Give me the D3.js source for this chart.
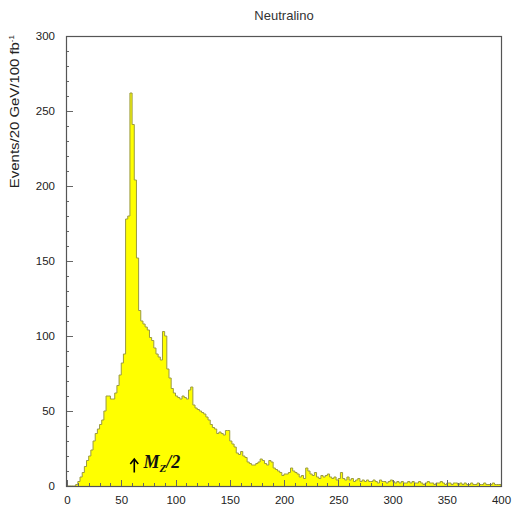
<!DOCTYPE html>
<html>
<head>
<meta charset="utf-8">
<script src="https://cdn.jsdelivr.net/npm/d3@7"></script>
<style>
  html, body { margin: 0; padding: 0; background: #fff; }
  svg { display: block; }
</style>
</head>
<body>
<svg id="chart" width="512" height="513"></svg>
<script>
// ---- Data ----
const title = "Neutralino";
const yLabel = "Events/20 GeV/100 fb";
const binWidth = 2;          // GeV per histogram bin
const xDomain = [0, 400];
const yDomain = [0, 300];
const xTickValues = [0, 50, 100, 150, 200, 250, 300, 350, 400];
const yTickValues = [0, 50, 100, 150, 200, 250, 300];
// bin contents, bins starting at 0,2,4,...,398 GeV
const counts = [
  0,0,0,0,1,3,6,9,13,17,
  20,24,30,35,38,41,44,50,60,60,
  58,58,62,67,74,82,88,178,180,262,
  241,204,152,117,110,108,106,104,99,97,
  92,88,86,84,103,100,78,72,65,62,
  60,59,58,60,59,58,64,66,54,52,
  51,50,49,48,46,44,41,39,38,35,
  36,35,34,37,37,30,28,26,22,21,
  23,20,19,16,15,14,14,15,16,18,
  17,15,14,17,16,12,11,10,9,7,
  8,8,9,12,10,9,8,6,7,5,
  12,10,8,7,9,6,5,7,6,7,
  8,6,5,6,4,5,9,5,4,6,
  4,5,3,4,5,3,4,3,4,3,
  3,4,3,2,4,3,3,2,3,4,
  3,2,3,2,3,2,2,3,2,3,
  2,2,3,2,1,2,3,2,2,1,
  2,2,3,2,1,2,2,1,2,2,
  1,2,1,2,1,1,2,1,1,2,
  1,1,2,1,1,1,2,1,1,1
];
const annotation = { x: 62, yTip: 18, yTail: 9, textX: 70.5, textY: 12 };

// ---- Layout ----
const frame = { left: 66, right: 501, top: 36, bottom: 486 };
const svg = d3.select("#chart");

const x = d3.scaleLinear().domain(xDomain).range([frame.left + 1, frame.right]);
const y = d3.scaleLinear().domain(yDomain).range([frame.bottom, frame.top]);

// histogram as step area
const bins = counts.map((c, i) => ({ x0: i * binWidth, x1: (i + 1) * binWidth, c }));
const pts = [];
pts.push([bins[0].x0, 0]);
bins.forEach(b => { pts.push([b.x0, b.c]); pts.push([b.x1, b.c]); });
pts.push([bins[bins.length - 1].x1, 0]);

const area = d3.area().x(d => x(d[0])).y0(y(0)).y1(d => y(d[1]));
const line = d3.line().x(d => x(d[0])).y(d => y(d[1]));

svg.append("path")
  .attr("d", area(pts))
  .attr("fill", "#ffff00");
svg.append("path")
  .attr("d", line(pts))
  .attr("fill", "none")
  .attr("stroke", "#9a9a40")
  .attr("stroke-width", 1);

// inner ticks
const g = svg.append("g").attr("stroke", "#666").attr("stroke-width", 1);
d3.range(0, 401, 10).forEach(v => {
  const len = v % 50 === 0 ? 6 : 3;
  g.append("line")
    .attr("x1", Math.round(x(v)) + 0.5).attr("x2", Math.round(x(v)) + 0.5)
    .attr("y1", frame.bottom).attr("y2", frame.bottom - len);
});
d3.range(0, 301, 10).forEach(v => {
  const len = v % 50 === 0 ? 7 : 3;
  g.append("line")
    .attr("y1", Math.round(y(v)) + 0.5).attr("y2", Math.round(y(v)) + 0.5)
    .attr("x1", frame.left).attr("x2", frame.left + len);
});

// frame
svg.append("rect")
  .attr("x", frame.left + 0.5).attr("y", frame.top + 0.5)
  .attr("width", frame.right - frame.left).attr("height", frame.bottom - frame.top)
  .attr("fill", "none").attr("stroke", "#555").attr("stroke-width", 1.2);

// tick labels via axes (no tick lines)
const xAxis = d3.axisBottom(x).tickValues(xTickValues).tickSize(0).tickPadding(10).tickFormat(d3.format("d"));
const yAxis = d3.axisLeft(y).tickValues(yTickValues).tickSize(0).tickPadding(11).tickFormat(d3.format("d"));
const gx = svg.append("g").attr("transform", `translate(0,${frame.bottom})`).call(xAxis);
const gy = svg.append("g").attr("transform", `translate(${frame.left},0)`).call(yAxis);
[gx, gy].forEach(a => {
  a.select(".domain").remove();
  a.selectAll("text")
    .attr("font-family", "Liberation Sans, Arial, sans-serif")
    .attr("font-size", 11.5)
    .attr("fill", "#222");
});

// title
svg.append("text")
  .attr("x", 284).attr("y", 20)
  .attr("text-anchor", "middle")
  .attr("font-family", "Liberation Sans, Arial, sans-serif")
  .attr("font-size", 13)
  .attr("fill", "#333")
  .text(title);

// y label
const yl = svg.append("text")
  .attr("transform", `translate(19,35) rotate(-90)`)
  .attr("text-anchor", "end")
  .attr("font-family", "Liberation Sans, Arial, sans-serif")
  .attr("font-size", 12.5)
  .attr("fill", "#222");
yl.append("tspan").attr("textLength", 146).attr("lengthAdjust", "spacingAndGlyphs").text(yLabel);
yl.append("tspan").attr("dy", -5).attr("font-size", 8).text("-1");

// annotation arrow
const ax = x(annotation.x);
svg.append("line")
  .attr("x1", ax).attr("x2", ax)
  .attr("y1", y(annotation.yTail)).attr("y2", y(annotation.yTip) + 1)
  .attr("stroke", "#000").attr("stroke-width", 1.6);
svg.append("path")
  .attr("d", `M${ax - 4},${y(annotation.yTip) + 5} L${ax},${y(annotation.yTip)} L${ax + 4},${y(annotation.yTip) + 5}`)
  .attr("fill", "none").attr("stroke", "#000").attr("stroke-width", 1.6);

const at = svg.append("text")
  .attr("x", x(annotation.textX)).attr("y", y(annotation.textY))
  .attr("font-family", "Liberation Serif, Times New Roman, serif")
  .attr("font-style", "italic").attr("font-weight", "bold")
  .attr("font-size", 18)
  .attr("fill", "#111");
at.append("tspan").text("M");
at.append("tspan").attr("dy", 4).attr("font-size", 11).text("Z");
at.append("tspan").attr("dy", -4).text("/2");
</script>
</body>
</html>
